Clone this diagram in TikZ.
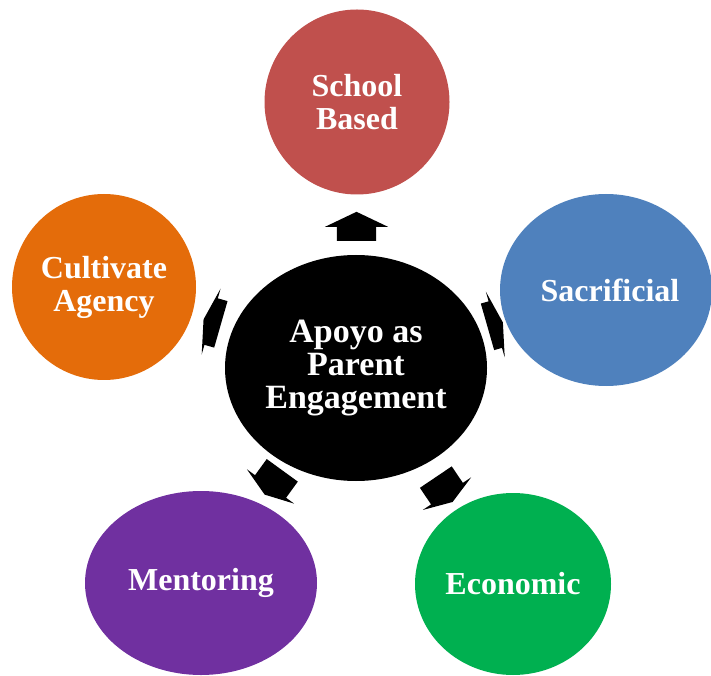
\documentclass[tikz,border=0pt]{standalone}
\usepackage{fontspec}
\setmainfont{Liberation Serif}
\usetikzlibrary{shapes.geometric,shapes.arrows,calc}

\definecolor{schoolred}{RGB}{192,80,77}
\definecolor{sacrblue}{RGB}{79,129,189}
\definecolor{econgreen}{RGB}{0,176,80}
\definecolor{mentpurple}{RGB}{112,48,160}
\definecolor{agencyorange}{RGB}{228,108,10}

\begin{document}
\begin{tikzpicture}[x=1pt,y=1pt,
    bubble/.style={ellipse,draw=none,text=white,inner sep=0pt,align=center,
      font=\bfseries\fontsize{32}{33}\selectfont},
    spoke/.style={single arrow,fill=black,draw=none,inner sep=0pt}]
  \useasboundingbox (0,0) rectangle (711,675);

  % hub
  \node[bubble,fill=black,minimum width=262,minimum height=226,
    font=\bfseries\fontsize{34}{33}\selectfont] (root) at (356,307)
    {Apoyo as\\Parent\\Engagement};

  % outer bubbles
  \node[bubble,fill=schoolred,minimum width=185,minimum height=185] (school) at (357,573) {School\\Based};
  \node[bubble,fill=sacrblue,minimum width=212,minimum height=192] (sacrificial) at (606,385) {\hspace{8pt}Sacrificial};
  \node[bubble,fill=econgreen,minimum width=196,minimum height=182] (economic) at (513,91) {Economic};
  \node[bubble,fill=mentpurple,minimum width=232,minimum height=184] (mentoring) at (201,92) {Mentoring};
  \node[bubble,fill=agencyorange,minimum width=184,minimum height=186] (agency) at (104,388) {Cultivate\\Agency};

  % arrows from the hub (text height = shaft, minimum height = length)
  \node[spoke,rotate=90,text height=39pt,single arrow head extend=12pt,
    minimum height=29,single arrow tip angle=129]
    (toschool) at ($(root)!0.515!(school)$) {};
  \node[spoke,rotate=16,text height=48pt,single arrow head extend=10pt,
    minimum height=16,single arrow tip angle=154]
    (tosacrificial) at ($(root)!0.546!(sacrificial)$) {};
  \node[spoke,rotate=-56,text height=38pt,single arrow head extend=10pt,
    minimum height=30,single arrow tip angle=142]
    (toeconomic) at ($(root)!0.55!(economic)$) {};
  \node[spoke,rotate=-126,text height=38pt,single arrow head extend=10pt,
    minimum height=30,single arrow tip angle=142]
    (tomentoring) at ($(root)!0.52!(mentoring)$) {};
  \node[spoke,rotate=164,text height=48pt,single arrow head extend=10pt,
    minimum height=18,single arrow tip angle=154]
    (toagency) at ($(root)!0.56!(agency)$) {};
\end{tikzpicture}
\end{document}
